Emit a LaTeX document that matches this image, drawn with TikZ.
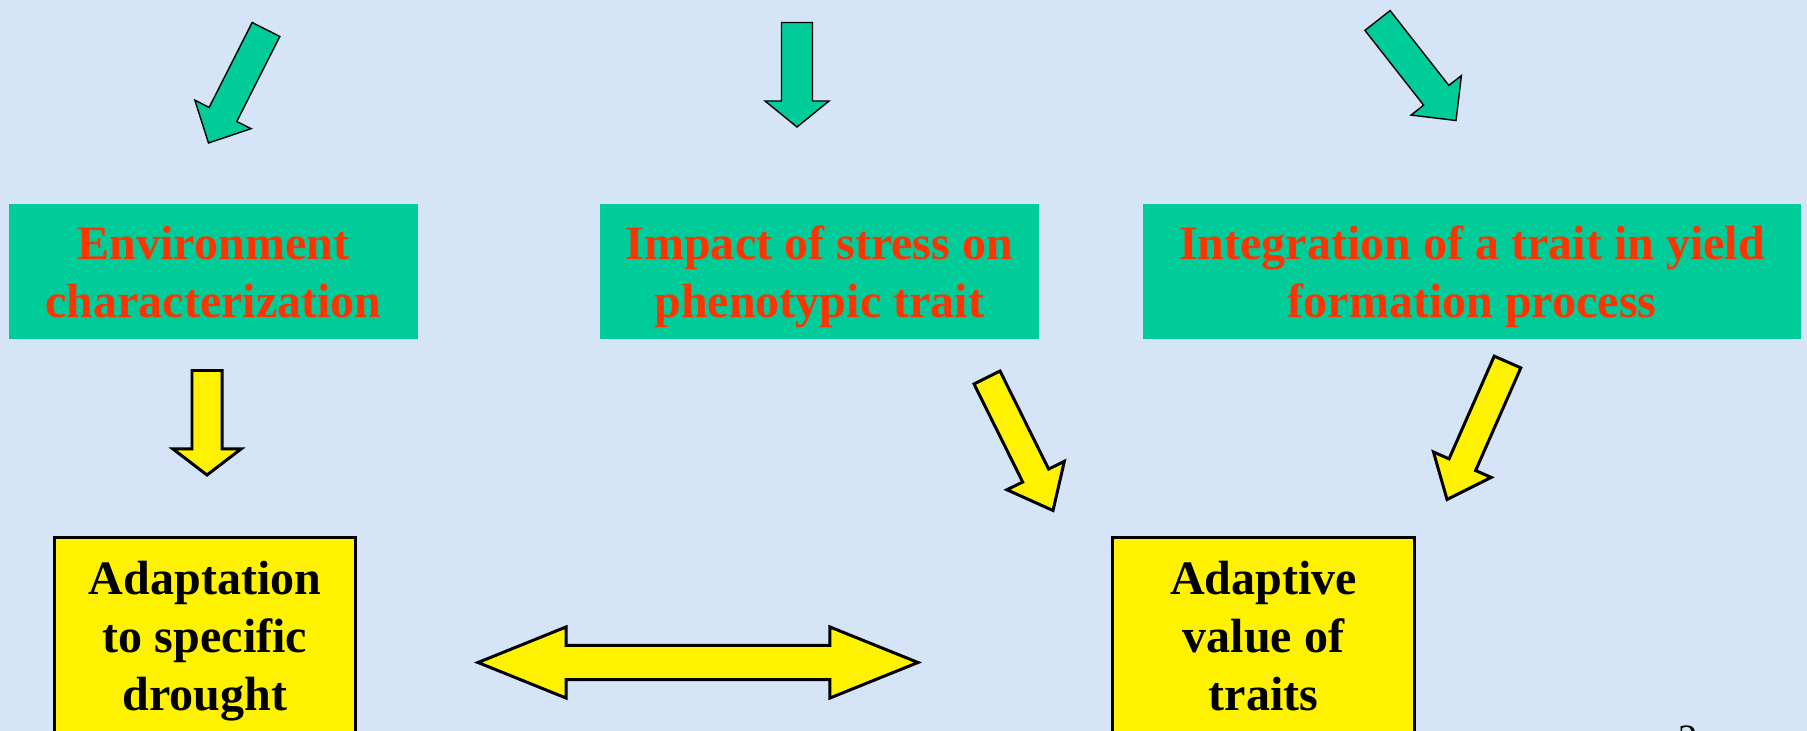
\documentclass[tikz,border=0pt]{standalone}
\usepackage{fontspec}
\setmainfont{Liberation Serif}
\usetikzlibrary{calc,positioning}
\definecolor{bgblue}{RGB}{213,229,247}
\definecolor{boxgreen}{RGB}{0,204,153}
\definecolor{titlered}{RGB}{255,51,0}
\newcommand\bigbold{\fontsize{13.66pt}{16.5pt}\selectfont\bfseries}
\newcommand\topstrut{\rule{0pt}{13pt}}
\newcommand\botstrut{\rule[-3.6pt]{0pt}{0pt}}
% block arrow: style, tail, tip, half shaft, half head, head length
\newcommand\blockarrow[6]{%
  \coordinate (hb) at ($(#3)!#6!(#2)$);
  \draw[#1] ($(#2)!#4!90:(#3)$) -- ($(hb)!#4!90:(#3)$) -- ($(hb)!#5!90:(#3)$)
    -- (#3) -- ($(hb)!#5!-90:(#3)$) -- ($(hb)!#4!-90:(#3)$)
    -- ($(#2)!#4!-90:(#3)$) -- cycle;}
% two-headed block arrow: style, left tip, right tip, half shaft, half head, head length
\newcommand\twowayarrow[6]{%
  \coordinate (ha) at ($(#2)!#6!(#3)$);
  \coordinate (hb) at ($(#3)!#6!(#2)$);
  \draw[#1] (#2) -- ($(ha)!#5!90:(#3)$) -- ($(ha)!#4!90:(#3)$)
    -- ($(hb)!#4!90:(#3)$) -- ($(hb)!#5!90:(#3)$) -- (#3)
    -- ($(hb)!#5!-90:(#3)$) -- ($(hb)!#4!-90:(#3)$)
    -- ($(ha)!#4!-90:(#3)$) -- ($(ha)!#5!-90:(#3)$) -- cycle;}

\begin{document}
\begin{tikzpicture}[
  x=0.01cm, y=-0.01cm,
  gbox/.style={
    fill=boxgreen, text=titlered, font=\bigbold, align=center,
    minimum height=1.35cm, inner sep=0pt},
  ybox/.style={
    draw=black, fill=yellow, line width=0.85pt, font=\bigbold,
    align=center, minimum height=1.96cm, inner sep=0pt},
  garrow/.style={draw=black, fill=boxgreen, line width=0.4pt},
  yarrow/.style={draw=black, fill=yellow, line width=0.85pt},
]
\useasboundingbox (0,0) rectangle (1807,731);
\fill[bgblue] (0,0) rectangle (1807,731);
\clip (0,0) rectangle (1807,731);

%% GREEN BOXES
\node[gbox, minimum width=4.09cm] (env) at (213.5,271.5)
  {\topstrut Environment\\characterization\botstrut};
\node[gbox, minimum width=4.39cm, right=1.8cm of env] (impact)
  {\topstrut Impact of stress on\\phenotypic trait\botstrut};
\node[gbox, minimum width=6.57cm, right=1.03cm of impact] (integ)
  {\topstrut Integration of a trait in yield\\formation process\botstrut};

%% YELLOW BOXES
\node[ybox, minimum width=3.01cm] (adapt) at (205,636)
  {\topstrut Adaptation\\to specific\\drought\botstrut};
\node[ybox, minimum width=3.01cm] (advalue) at (1263.5,636)
  {\topstrut Adaptive\\value of\\traits\botstrut};

%% GREEN ARROWS
\coordinate (g1s) at (266,29.5);   \coordinate (g1e) at (208.5,143);
\coordinate (g2s) at (797,22.5);   \coordinate (g2e) at (797,127);
\coordinate (g3s) at (1377.5,20.5); \coordinate (g3e) at (1456,120.5);
\blockarrow{garrow}{g1s}{g1e}{0.155cm}{0.315cm}{0.32cm}
\blockarrow{garrow}{g2s}{g2e}{0.155cm}{0.32cm}{0.26cm}
\blockarrow{garrow}{g3s}{g3e}{0.16cm}{0.32cm}{0.32cm}

%% YELLOW ARROWS
\coordinate (y1s) at (207,370.5);  \coordinate (y1e) at (207,475);
\coordinate (y2s) at (987,377.5);  \coordinate (y2e) at (1053,510.5);
\coordinate (y3s) at (1507.5,362); \coordinate (y3e) at (1447,499.5);
\blockarrow{yarrow}{y1s}{y1e}{0.15cm}{0.34cm}{0.26cm}
\blockarrow{yarrow}{y2s}{y2e}{0.145cm}{0.32cm}{0.39cm}
\blockarrow{yarrow}{y3s}{y3e}{0.145cm}{0.315cm}{0.38cm}

\coordinate (dl) at (478,662.5); \coordinate (dr) at (918,662.5);
\twowayarrow{yarrow}{dl}{dr}{0.17cm}{0.355cm}{0.88cm}

%% PAGE NUMBER
\node[anchor=north, inner sep=0pt, font=\fontsize{11pt}{13pt}\selectfont]
  (pnum) at (1688.5,725) {2};
\end{tikzpicture}
\end{document}
